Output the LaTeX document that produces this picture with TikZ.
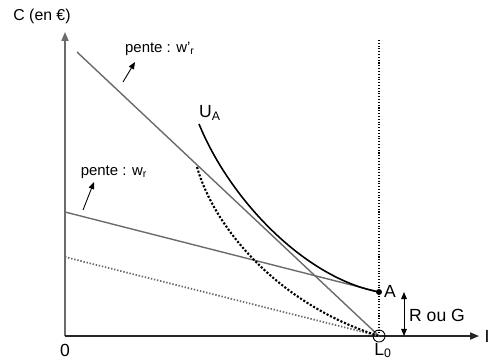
\documentclass[tikz,border=0pt]{standalone}
\usepackage{fontspec}
\setmainfont{Liberation Sans}
\usetikzlibrary{arrows.meta}
\definecolor{gris}{gray}{0.42}
\tikzset{
  axe/.style={line width=0.8pt,-{Triangle[length=5pt,width=4pt]}},
  droite/.style={gris,line width=0.8pt},
  courbe/.style={black,line width=0.9pt},
  fleche/.style={black,line width=0.5pt,-{Triangle[length=4pt,width=3.2pt]}},
  etiq/.style={inner sep=1pt,font=\fontsize{8.5}{9}\selectfont},
  lettre/.style={inner sep=1pt,font=\fontsize{10}{11}\selectfont}
}
\begin{document}
\begin{tikzpicture}[x=0.02cm,y=-0.02cm]
\useasboundingbox (0,0) rectangle (489,358);

\coordinate (O) at (65,336);
\coordinate (Ctop) at (65,32);
\coordinate (Iend) at (479,336);
\coordinate (L0) at (379,336);
\coordinate (A) at (379,292);
\coordinate (Vtop) at (379,40);
\coordinate (Wp) at (77,52);
\coordinate (W) at (65,212);
\coordinate (Wd) at (65,257);
\coordinate (UA) at (199,124);
\coordinate (T) at (197,167);
\coordinate (RGtop) at (404,292);
\coordinate (RGbot) at (404,336);
\coordinate (fp1) at (123,82);
\coordinate (fp2) at (135,62);
\coordinate (f1) at (83,210);
\coordinate (f2) at (94,182);

\draw[axe,gris] (O) -- (Ctop);
\draw[axe,black!85] (O) -- (Iend);
\draw[densely dotted,line width=0.6pt] (Vtop) -- (L0);

\draw[droite] (Wp) -- (L0);
\draw[droite] (W) -- (A);
\draw[droite,densely dotted,line width=1pt] (Wd) -- (L0);

\draw[courbe] (UA) .. controls (230,200) and (305,278) .. (A);
\draw[black,line width=1.2pt,densely dotted] (T) .. controls (215,230) and (280,305) .. (L0);

\fill (A) circle (3);
\draw[line width=0.5pt] (L0) circle (6);

\draw[fleche,{Triangle[length=4pt,width=3.2pt]}-{Triangle[length=4pt,width=3.2pt]}] (RGtop) -- (RGbot);
\draw[fleche] (fp1) -- (fp2);
\draw[fleche] (f1) -- (f2);

\node[font=\fontsize{9}{10}\selectfont] (axeC) at (42,16) {C (en €)};
\node[lettre] (axeI) at (487,336) {I};
\node[lettre] (zero) at (65,350) {0};
\node[lettre,anchor=north] (lL0) at (383,341) {L\textsubscript{0}};
\node[lettre] (lA) at (390,291) {A};
\node[lettre] (lRG) at (437,315) {R ou G};
\node[lettre] (lUA) at (210,113) {U\textsubscript{A}};
\node[etiq] (pwp) at (160,49) {pente : w’\textsubscript{r}};
\node[etiq] (pw) at (114,172) {pente : w\textsubscript{r}};
\end{tikzpicture}
\end{document}
